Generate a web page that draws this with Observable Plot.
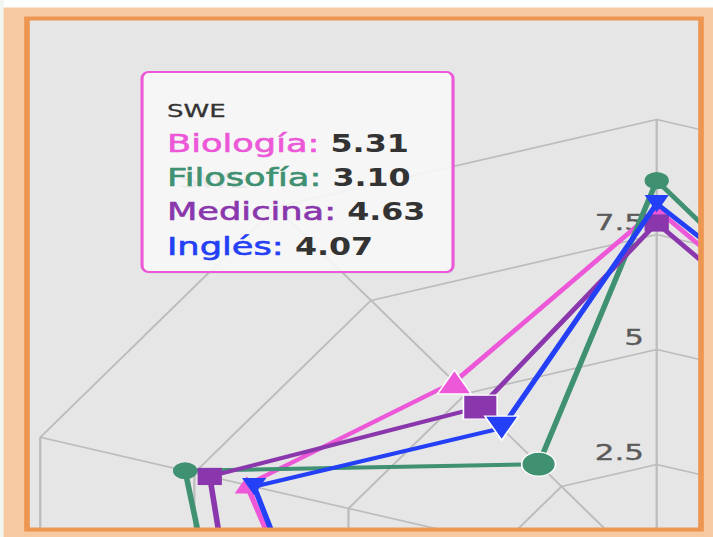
<!DOCTYPE html>
<html>
<head>
<meta charset="utf-8">
<script src="https://cdn.jsdelivr.net/npm/d3@7"></script>
<script src="https://cdn.jsdelivr.net/npm/@observablehq/plot@0.6"></script>
<style>
  html, body { margin: 0; padding: 0; background: #ffffff; overflow: hidden; }
  #chart { width: 713px; height: 537px; }
  #chart svg { display: block; transform: scaleX(1.40909); transform-origin: 0 0; }
</style>
</head>
<body>
<div id="chart"></div>
<script>
// ---- data (radar chart, 10 axes clockwise from the top; only the visible part) ----
const nAxes = 10;
const axisIndex = [7, 8, 9, 0, 1];            // axes that show in the crop
const axisLabels = ["", "", "SWE", "", ""];     // category names of those axes
const seriesNames = ["Biología", "Filosofía", "Medicina", "Inglés"];
const seriesColors = ["#ec58d8", "#3f9171", "#8a37ad", "#2440f6"];
const seriesSymbols = ["triangle", "circle", "square", "triangle-down"];
const biologia  = [5.45, 6.65, 5.31, 8.05, 5.35];
const filosofia = [6.94, 7.65, 3.10, 8.67, 5.40];
const medicina  = [6.73, 7.25, 4.63, 7.75, 5.13];
const ingles    = [5.45, 6.53, 4.07, 8.17, 5.60];
const ringLevels = [2.5, 5, 7.5, 10];
const tickLabels = ["2.5", "5", "7.5"];
const hoveredCategory = "SWE";

// ---- geometry helpers ----
const seriesValues = [biologia, filosofia, medicina, ingles];
const W = 506, H = 537, CX = 465.55, CY = 579, U = 46;
const ang = (i) => (i * 2 * Math.PI) / nAxes;
const px = (v, i) => v * Math.sin(ang(i));
const py = (v, i) => v * Math.cos(ang(i));

const rows = seriesNames.flatMap((name, s) =>
  axisIndex.map((k, j) => ({
    name, s, cat: axisLabels[j], v: seriesValues[s][j],
    x: px(seriesValues[s][j], k), y: py(seriesValues[s][j], k)
  }))
);

const rings = ringLevels.flatMap((level) =>
  d3.range(nAxes + 1).map((i) => ({ level, x: px(level, i % nAxes), y: py(level, i % nAxes) }))
);
const spokes = d3.range(nAxes).map((i) => ({ x2: px(10, i), y2: py(10, i) }));

const half = (size) => Math.sqrt(size / Math.PI);
const symbols = {
  "triangle": { draw(c, size) { const r = half(size); c.moveTo(0, -r); c.lineTo(r, r); c.lineTo(-r, r); c.closePath(); } },
  "triangle-down": { draw(c, size) { const r = half(size); c.moveTo(-r, -r); c.lineTo(r, -r); c.lineTo(0, r); c.closePath(); } },
  "square": { draw(c, size) { const r = half(size); c.moveTo(-r, -r); c.lineTo(r, -r); c.lineTo(r, r); c.lineTo(-r, r); c.closePath(); } },
  "circle": "circle"
};

const marks = [];
// grid
marks.push(Plot.link(spokes, { x1: 0, y1: 0, x2: "x2", y2: "y2", stroke: "#bcbcbc", strokeWidth: 1.6 }));
marks.push(Plot.line(rings, { x: "x", y: "y", z: "level", stroke: "#bcbcbc", strokeWidth: 1.6, curve: "linear" }));
// radial tick labels on the top axis
marks.push(Plot.text(tickLabels, {
  x: 0, y: (d) => +d, text: (d) => d, textAnchor: "end", lineAnchor: "bottom",
  dx: -9, dy: -5, fontSize: 22, fill: "#5a5a5a", stroke: "#5a5a5a", strokeWidth: 0.35,
  fontFamily: "DejaVu Sans"
}));
// category label (seen faintly through the tooltip)
const catRows = axisIndex.map((k, j) => ({ k, label: axisLabels[j], x: px(10, k), y: py(10, k) })).filter((d) => d.label);
marks.push(Plot.text(catRows, {
  x: "x", y: "y", text: "label", textAnchor: "end", lineAnchor: "bottom",
  dx: -19, dy: -19, fontSize: 22, fill: "#666666", fontFamily: "DejaVu Sans"
}));
// series
seriesNames.forEach((name, s) => {
  const data = rows.filter((d) => d.s === s);
  marks.push(Plot.line(data, { x: "x", y: "y", stroke: seriesColors[s], strokeWidth: 4, strokeLinejoin: "round", curve: "linear" }));
  marks.push(Plot.dot(data.filter((d) => d.cat !== hoveredCategory), {
    x: "x", y: "y", r: 8.6, fill: seriesColors[s], stroke: "none", symbol: symbols[seriesSymbols[s]]
  }));
  marks.push(Plot.dot(data.filter((d) => d.cat === hoveredCategory), {
    x: "x", y: "y", r: 12, fill: seriesColors[s], stroke: "#ffffff", strokeWidth: 1.2, symbol: symbols[seriesSymbols[s]]
  }));
});
// frame / border overlay
marks.push(() => {
  const g = d3.create("svg:g");
  const L = 19.16, R = 497.5, T = 18.5, B = 529.5;
  g.append("path").attr("fill-rule", "evenodd").attr("fill", "#f7c9a0")
    .attr("d", `M0,0H${W}V${H}H0Z M${L},${T}V${B}H${R}V${T}Z`);
  g.append("rect").attr("x", L).attr("y", T).attr("width", R - L).attr("height", B - T)
    .attr("fill", "none").attr("stroke", "#ec9652").attr("stroke-width", 4);
  g.append("rect").attr("x", 0).attr("y", 0).attr("width", W).attr("height", 7.5).attr("fill", "#ffffff");
  g.append("rect").attr("x", 0).attr("y", 0).attr("width", 2.6).attr("height", H).attr("fill", "#f3f5f1");
  return g.node();
});
// tooltip
marks.push(() => {
  const g = d3.create("svg:g").attr("text-anchor", "start");
  const x0 = 100.8, y0 = 72, w = 220.7, h = 200;
  g.append("rect").attr("x", x0 + 1).attr("y", y0 + 1.5).attr("width", w).attr("height", h)
    .attr("rx", 4.7).attr("ry", 6.6).attr("fill", "rgba(0,0,0,0.08)");
  g.append("rect").attr("x", x0).attr("y", y0).attr("width", w).attr("height", h)
    .attr("rx", 4.7).attr("ry", 6.6).attr("fill", "rgba(250,250,250,0.9)")
    .attr("stroke", seriesColors[0]).attr("stroke-width", 2.2);
  const j = axisLabels.indexOf(hoveredCategory);
  g.append("text").attr("x", 118.5).attr("y", 117).attr("text-anchor", "start").attr("font-family", "DejaVu Sans")
    .attr("font-size", 18.5).attr("fill", "#333333").attr("stroke", "#333333").attr("stroke-width", 0.3)
    .text(hoveredCategory);
  seriesNames.forEach((name, s) => {
    const t = g.append("text").attr("x", 118.5).attr("y", 151.7 + s * 34.4).attr("text-anchor", "start")
      .attr("font-family", "DejaVu Sans").attr("font-size", 25);
    t.append("tspan").attr("fill", seriesColors[s]).attr("stroke", seriesColors[s]).attr("stroke-width", 0.6)
      .text(name + ": ");
    t.append("tspan").attr("fill", "#333333").attr("font-weight", "bold")
      .attr("font-family", "'DejaVu Sans Condensed', 'DejaVu Sans'")
      .text(seriesValues[s][j].toFixed(2));
  });
  return g.node();
});

const chart = Plot.plot({
  width: W, height: H, margin: 0,
  style: { background: "#e6e6e6", fontFamily: "DejaVu Sans", overflow: "hidden" },
  x: { type: "linear", domain: [0, 10], range: [CX, CX + 10 * U], axis: null },
  y: { type: "linear", domain: [0, 10], range: [CY, CY - 10 * U], axis: null },
  marks
});
document.getElementById("chart").appendChild(chart);
</script>
</body>
</html>
